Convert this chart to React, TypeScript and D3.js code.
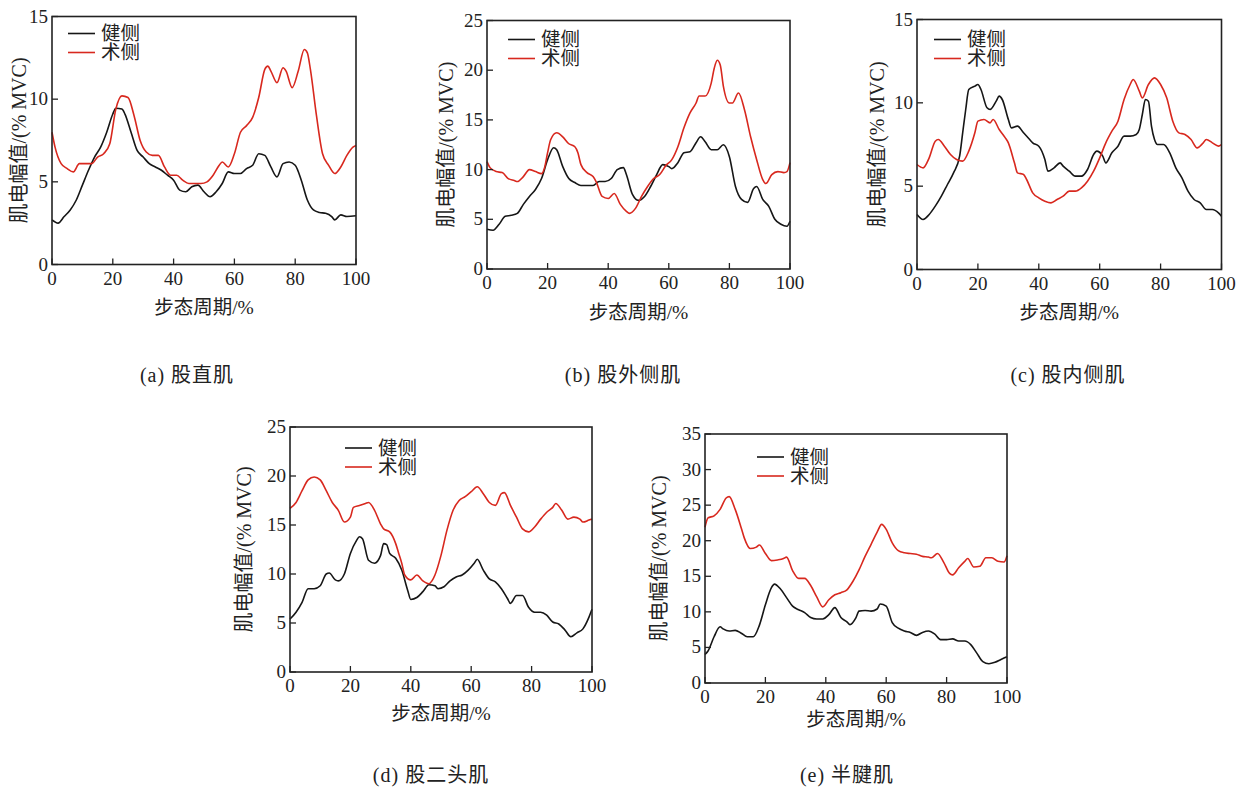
import { useEffect, useRef } from 'react';
import * as d3 from 'd3';

type Pt = [number, number];

const seriesNames = ['健侧', '术侧'];
const xTicks = [0, 20, 40, 60, 80, 100];
const xLabel = '步态周期/%';
const yLabel = '肌电幅值/(% MVC)';
const captions = ['(a) 股直肌', '(b) 股外侧肌', '(c) 股内侧肌', '(d) 股二头肌', '(e) 半腱肌'];
const yMaxes = [15, 25, 15, 25, 35];

// (a) 股直肌
const aHealthy: Pt[] = [[0,2.7],[2,2.5],[4,2.9],[6,3.3],[8,3.9],[10,4.8],[12,5.7],[14,6.5],[16,7.1],[18,8.0],[20,9.1],[21,9.45],[23,9.4],[24,9.1],[26,8.0],[28,6.9],[30,6.5],[32,6.1],[34,5.9],[36,5.7],[38,5.4],[40,5.1],[42,4.5],[44,4.4],[46,4.7],[48,4.8],[50,4.4],[52,4.1],[54,4.4],[56,4.9],[58,5.6],[60,5.5],[62,5.5],[64,5.8],[66,6.0],[68,6.7],[70,6.6],[72,5.9],[74,5.3],[76,6.1],[78,6.2],[80,6.0],[82,5.1],[84,3.9],[86,3.3],[88,3.15],[90,3.1],[92,2.9],[93,2.7],[95,3.0],[97,2.9],[100,2.95]];
const aSurgical: Pt[] = [[0,8.0],[1,7.1],[3,6.1],[5,5.8],[7,5.6],[9,6.1],[11,6.1],[13,6.1],[15,6.5],[17,6.7],[19,7.3],[21,9.4],[23,10.2],[25,10.1],[27,9.0],[29,7.5],[31,6.8],[33,6.6],[35,6.6],[37,5.9],[39,5.4],[41,5.4],[43,5.1],[45,4.9],[47,4.9],[49,4.9],[51,5.0],[53,5.4],[55,6.0],[56,6.2],[58,5.9],[60,6.7],[62,8.0],[64,8.4],[66,8.9],[68,10.1],[70,11.8],[71,12.0],[72,11.7],[74,11.0],[76,11.9],[77,11.7],[79,10.7],[81,11.7],[83,13.0],[84,12.8],[85,11.8],[87,9.0],[89,6.7],[91,6.0],[93,5.5],[95,5.9],[97,6.6],[99,7.1],[100,7.2]];

// (b) 股外侧肌
const bHealthy: Pt[] = [[0,4.0],[2,3.9],[4,4.5],[6,5.3],[8,5.4],[10,5.6],[12,6.5],[14,7.3],[16,8.0],[18,9.1],[20,11.0],[22,12.2],[23,12.0],[25,10.3],[27,9.1],[29,8.7],[31,8.4],[33,8.4],[35,8.4],[37,8.8],[39,8.8],[41,9.1],[43,10.0],[45,10.2],[46,9.5],[48,7.5],[50,6.9],[52,7.3],[54,8.3],[56,9.5],[58,10.5],[60,10.3],[61,10.1],[63,10.7],[65,11.7],[67,11.8],[69,12.7],[70.5,13.3],[72,12.8],[74,12.0],[76,12.0],[78,12.5],[80,11.3],[82,8.3],[84,7.0],[86,6.7],[88,8.1],[89,8.3],[91,7.0],[93,6.3],[95,5.0],[97,4.5],[99,4.3],[100,4.8]];
const bSurgical: Pt[] = [[0,10.8],[1,10.2],[3,9.8],[5,9.7],[7,9.1],[9,8.9],[10,8.8],[12,9.3],[14,10.0],[16,9.8],[18,9.6],[19,10.2],[20,11.7],[21,13.0],[23,13.7],[25,13.3],[27,12.6],[29,12.3],[30,11.7],[31,10.5],[33,9.7],[35,9.3],[36,8.8],[38,7.3],[40,7.1],[42,7.6],[44,6.5],[46,5.8],[47,5.6],[49,6.1],[51,7.3],[53,8.3],[55,9.1],[57,9.5],[59,10.4],[61,11.0],[63,12.3],[65,14.2],[67,15.7],[69,16.7],[70,17.4],[72,17.4],[74,18.7],[75,20.2],[76,21.0],[77,20.5],[78,18.4],[80,16.7],[81,16.7],[83,17.7],[85,16.0],[87,13.3],[89,11.0],[91,9.0],[92,8.6],[94,9.5],[96,9.8],[98,9.7],[99,9.8],[100,10.7]];

// (c) 股内侧肌
const cHealthy: Pt[] = [[0,3.3],[2,3.0],[4,3.3],[6,3.8],[8,4.4],[10,5.1],[12,5.8],[14,6.8],[15,8.2],[16,9.6],[17,10.8],[19,11.0],[20,11.1],[21,10.8],[23,9.7],[24,9.6],[26,10.1],[27,10.4],[28,10.2],[30,9.0],[31,8.5],[33,8.6],[35,8.2],[37,7.8],[38,7.6],[40,7.4],[42,6.6],[43,5.9],[45,6.1],[47,6.4],[48,6.2],[50,5.9],[52,5.6],[54,5.6],[56,6.0],[58,6.9],[59,7.1],[61,6.8],[62,6.4],[64,7.0],[66,7.4],[68,8.0],[70,8.0],[72,8.1],[73,8.4],[74,9.3],[75,10.2],[76,10.1],[77,8.6],[78,7.8],[79,7.5],[81,7.5],[83,7.0],[85,6.1],[87,5.5],[89,4.7],[91,4.2],[93,4.0],[95,3.6],[97,3.6],[99,3.4],[100,3.2]];
const cSurgical: Pt[] = [[0,6.3],[2,6.1],[4,6.7],[6,7.7],[7,7.8],[9,7.4],[11,6.9],[13,6.6],[15,6.5],[17,7.1],[19,8.2],[20,8.9],[22,9.0],[24,8.8],[25,9.0],[27,8.4],[29,7.9],[30,7.6],[32,6.4],[33,5.8],[35,5.7],[36,5.4],[38,4.6],[40,4.3],[42,4.1],[44,4.0],[46,4.2],[48,4.4],[50,4.7],[52,4.7],[54,4.9],[56,5.3],[58,5.9],[60,6.7],[62,7.6],[64,8.3],[66,8.9],[68,10.2],[70,11.1],[71,11.4],[73,10.7],[74,10.3],[76,11.1],[78,11.5],[80,11.1],[82,10.3],[84,8.9],[86,8.2],[88,8.1],[90,7.8],[92,7.3],[94,7.6],[95,7.8],[97,7.6],[99,7.4],[100,7.5]];

// (d) 股二头肌
const dHealthy: Pt[] = [[0,5.4],[2,6.1],[4,7.1],[6,8.5],[8,8.5],[10,8.8],[12,10.0],[13,10.1],[15,9.4],[16,9.3],[18,10.0],[20,12.1],[22,13.4],[23,13.8],[24,13.6],[26,11.4],[28,11.1],[30,11.9],[31,13.1],[32,13.0],[33,12.1],[35,11.6],[37,10.4],[39,8.3],[40,7.4],[42,7.6],[44,8.2],[46,8.9],[48,8.8],[49,8.5],[51,8.7],[53,9.3],[55,9.7],[57,9.9],[59,10.4],[61,11.1],[62,11.5],[64,10.4],[66,9.5],[68,9.2],[70,8.5],[72,7.5],[73,7.0],[75,7.8],[77,7.8],[79,6.6],[81,6.1],[83,6.1],[85,5.8],[87,5.1],[89,4.9],[91,4.3],[93,3.6],[95,4.0],[97,4.4],[99,5.6],[100,6.4]];
const dSurgical: Pt[] = [[0,16.7],[2,17.3],[4,18.5],[6,19.6],[8,19.9],[10,19.6],[12,18.5],[14,17.3],[16,16.5],[18,15.3],[20,15.8],[21,16.8],[23,17.0],[25,17.2],[26,17.3],[28,16.5],[30,15.1],[31,14.6],[33,14.3],[35,13.1],[36,12.1],[37,11.1],[38,9.9],[40,9.4],[42,9.9],[44,9.3],[46,9.0],[47,9.3],[48,9.9],[50,11.9],[52,14.5],[54,16.5],[56,17.5],[58,17.9],[60,18.4],[62,18.9],[64,18.2],[66,17.3],[68,17.0],[70,18.2],[71,18.3],[73,17.0],[75,15.8],[77,14.6],[79,14.3],[81,14.8],[83,15.6],[85,16.3],[87,16.8],[88,17.2],[90,16.5],[92,15.6],[94,15.8],[96,15.6],[97,15.3],[99,15.5],[100,15.6]];

// (e) 半腱肌
const eHealthy: Pt[] = [[0,4.0],[1,4.5],[3,6.5],[5,7.9],[6,7.6],[8,7.3],[10,7.4],[12,7.0],[14,6.5],[16,6.5],[18,8.1],[20,11.0],[22,13.4],[23,13.9],[25,13.2],[27,12.0],[29,10.8],[31,10.3],[33,9.9],[35,9.2],[37,9.0],[39,9.0],[41,9.6],[43,10.6],[45,9.2],[47,8.6],[48,8.2],[50,9.2],[51,10.1],[53,10.2],[55,10.1],[57,10.4],[58,11.1],[60,10.8],[62,8.5],[64,7.7],[66,7.3],[68,7.1],[70,6.7],[72,7.1],[74,7.3],[76,6.9],[78,6.1],[80,6.1],[82,6.2],[84,5.9],[86,5.9],[88,5.4],[90,4.2],[92,3.0],[94,2.7],[96,2.9],[98,3.3],[100,3.7]];
const eSurgical: Pt[] = [[0,21.9],[1,23.2],[3,23.5],[5,24.4],[7,26.0],[8,26.2],[10,24.4],[12,21.8],[13,20.4],[15,18.9],[17,19.1],[18,19.4],[20,18.2],[22,17.2],[24,17.3],[26,17.5],[27,17.7],[29,15.8],[31,14.7],[33,14.7],[35,13.7],[37,12.1],[39,10.7],[41,11.7],[43,12.4],[45,12.7],[47,13.1],[49,14.3],[51,15.9],[53,17.8],[55,19.5],[57,21.2],[58.5,22.3],[60,21.6],[62,19.7],[64,18.6],[66,18.3],[68,18.2],[70,18.1],[72,17.8],[74,17.7],[75,17.6],[77,18.2],[79,17.0],[81,15.4],[82,15.2],[84,16.2],[86,17.1],[87,17.5],[89,16.3],[91,16.4],[93,17.6],[95,17.6],[97,17.1],[99,17.0],[100,17.9]];

const healthySeries = [aHealthy, bHealthy, cHealthy, dHealthy, eHealthy];
const surgicalSeries = [aSurgical, bSurgical, cSurgical, dSurgical, eSurgical];

const panels = [
  { l: 52, t: 16.5, w: 304, h: 248, cx: 187, cy: 375, yOff: 33, xOff: 43, lgX: 16, lgY: 17 },
  { l: 487, t: 20.5, w: 303, h: 248.5, cx: 623, cy: 375, yOff: 41, xOff: 43, lgX: 21, lgY: 19 },
  { l: 917, t: 19.5, w: 304.5, h: 250, cx: 1068, cy: 375, yOff: 40, xOff: 43, lgX: 17, lgY: 20 },
  { l: 290, t: 427, w: 302, h: 245, cx: 431, cy: 775, yOff: 46, xOff: 41, lgX: 55, lgY: 21 },
  { l: 705, t: 434, w: 302, h: 249, cx: 847, cy: 775, yOff: 46, xOff: 36, lgX: 52, lgY: 23 },
];

const colors = ['#161616', '#d8281e'];
const numFont = "'Liberation Serif', 'Times New Roman', 'Noto Sans CJK SC', serif";

export default function App() {
  const svgRef = useRef<SVGSVGElement>(null);

  useEffect(() => {
    if (!svgRef.current) return;
    const svg = d3.select(svgRef.current);
    svg.selectAll('*').remove();

    svg.append('rect').attr('width', 1243).attr('height', 792).attr('fill', '#fff');

    panels.forEach((p, i) => {
      const g = svg.append('g').attr('transform', `translate(${p.l},${p.t})`);
      const x = d3.scaleLinear().domain([0, 100]).range([0, p.w]);
      const y = d3.scaleLinear().domain([0, yMaxes[i]]).range([p.h, 0]);
      const yTicks = d3.range(0, yMaxes[i] + 1, 5);

      // series
      const line = d3.line<Pt>().x(d => x(d[0])).y(d => y(d[1])).curve(d3.curveMonotoneX);
      [healthySeries[i], surgicalSeries[i]].forEach((s, k) => {
        g.append('path').datum(s).attr('d', line)
          .attr('fill', 'none').attr('stroke', colors[k]).attr('stroke-width', 1.6)
          .attr('stroke-linejoin', 'round');
      });

      // frame
      g.append('rect').attr('width', p.w).attr('height', p.h)
        .attr('fill', 'none').attr('stroke', '#222').attr('stroke-width', 1.6);

      // ticks (inward)
      xTicks.forEach(v => {
        g.append('line').attr('x1', x(v)).attr('x2', x(v)).attr('y1', p.h).attr('y2', p.h - 6)
          .attr('stroke', '#222').attr('stroke-width', 1.3);
        g.append('text').attr('x', x(v)).attr('y', p.h + 20)
          .attr('text-anchor', 'middle').attr('font-family', numFont).attr('font-size', 19)
          .attr('fill', '#222').text(v);
      });
      yTicks.forEach(v => {
        g.append('line').attr('x1', 0).attr('x2', 6).attr('y1', y(v)).attr('y2', y(v))
          .attr('stroke', '#222').attr('stroke-width', 1.3);
        g.append('text').attr('x', -4).attr('y', y(v) + 6)
          .attr('text-anchor', 'end').attr('font-family', numFont).attr('font-size', 19)
          .attr('fill', '#222').text(v);
      });

      // axis titles
      g.append('text').attr('x', p.w / 2).attr('y', p.h + p.xOff)
        .attr('text-anchor', 'middle').attr('dominant-baseline', 'central')
        .attr('font-family', numFont).attr('font-size', 19.5).attr('fill', '#222').text(xLabel);
      g.append('text')
        .attr('transform', `translate(${-p.yOff},${p.h / 2}) rotate(-90)`)
        .attr('text-anchor', 'middle').attr('dominant-baseline', 'central')
        .attr('font-family', numFont).attr('font-size', 20).attr('fill', '#222').text(yLabel);

      // legend
      seriesNames.forEach((name, k) => {
        const ly = p.lgY + k * 19;
        g.append('line').attr('x1', p.lgX).attr('x2', p.lgX + 27).attr('y1', ly).attr('y2', ly)
          .attr('stroke', colors[k]).attr('stroke-width', 1.6);
        g.append('text').attr('x', p.lgX + 33).attr('y', ly).attr('dominant-baseline', 'central')
          .attr('font-family', numFont).attr('font-size', 19.5).attr('fill', '#222').text(name);
      });

      // caption
      svg.append('text').attr('x', p.cx).attr('y', p.cy)
        .attr('text-anchor', 'middle').attr('dominant-baseline', 'central')
        .attr('font-family', numFont).attr('font-size', 20).attr('letter-spacing', 1)
        .attr('fill', '#222').text(captions[i]);
    });
  }, []);

  return (
    <div style={{ position: 'absolute', left: 0, top: 0 }}>
      <svg ref={svgRef} width={1243} height={792} style={{ display: 'block' }} />
    </div>
  );
}
